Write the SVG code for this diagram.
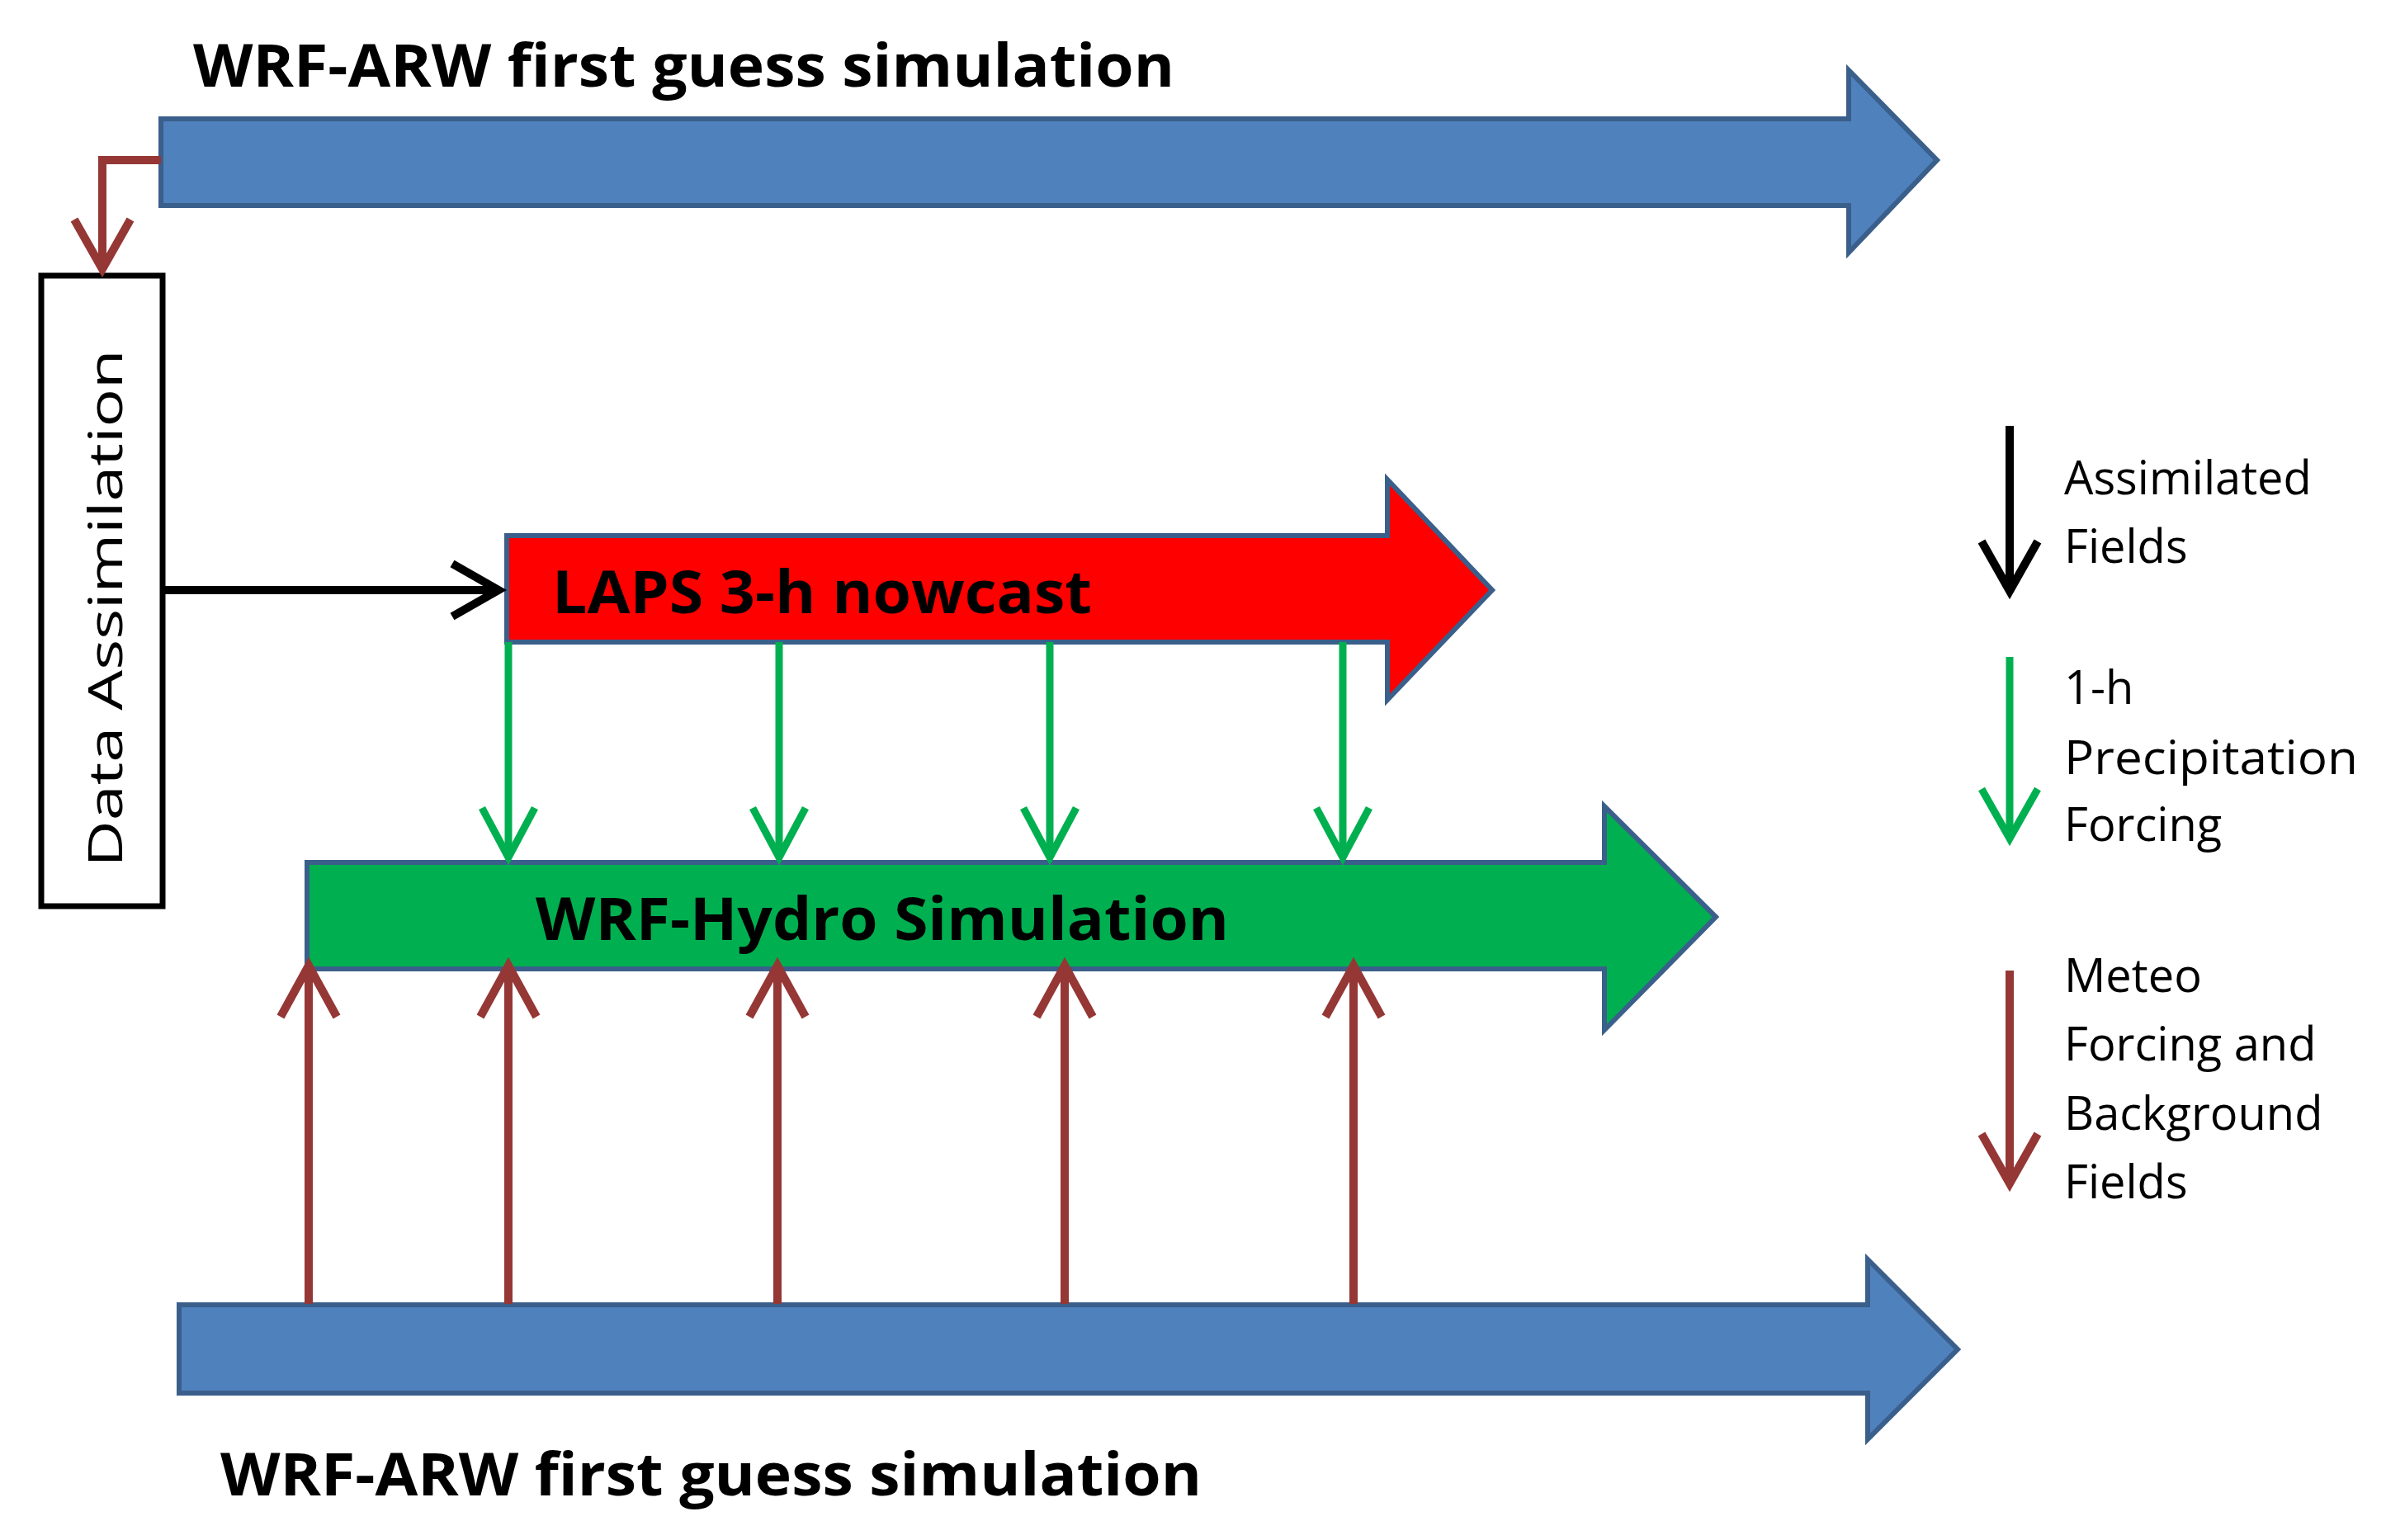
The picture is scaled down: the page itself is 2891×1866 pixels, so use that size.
<svg xmlns="http://www.w3.org/2000/svg" width="2891" height="1866" viewBox="0 0 2891 1866">
<style>
.big{stroke:#3A5F8B;stroke-width:6;stroke-linejoin:miter}
.t{font-family:"Open Sans","Liberation Sans",sans-serif;font-weight:bold;font-size:72px;fill:#000}
.l{font-family:"Open Sans","Liberation Sans",sans-serif;font-size:56px;fill:#000}
.br{stroke:#953735;stroke-width:10;fill:none}
.gr{stroke:#00B050;stroke-width:9;fill:none}
.bk{stroke:#000;stroke-width:10;fill:none}
</style>
<rect width="2891" height="1866" fill="#fff"/>
<g id="wrf-top">
<polygon class="big" fill="#4F81BD" points="195,144 2240,144 2240,85 2347,194 2240,306 2240,249 195,249"/>
<text class="t" x="234" y="105" textLength="1189" lengthAdjust="spacingAndGlyphs">WRF-ARW first guess simulation</text>
</g>
<g id="data-assimilation">
<rect x="50" y="334" width="147" height="764" fill="#fff" stroke="#000" stroke-width="7"/>
<text class="l" transform="translate(148,737) rotate(-90)" text-anchor="middle" font-size="72" textLength="627" lengthAdjust="spacingAndGlyphs">Data Assimilation</text>
</g>
<g id="laps">
<polygon class="big" fill="#FF0000" points="614,649 1681,649 1681,581 1808,715 1681,848 1681,778 614,778"/>
<text class="t" x="669" y="743" textLength="654" lengthAdjust="spacingAndGlyphs">LAPS 3-h nowcast</text>
</g>
<g id="wrf-hydro">
<polygon class="big" fill="#00B050" points="372,1045 1944,1045 1944,977 2079,1111 1944,1248 1944,1174 372,1174"/>
<text class="t" x="649" y="1139" textLength="840" lengthAdjust="spacingAndGlyphs">WRF-Hydro Simulation</text>
</g>
<g id="wrf-bottom">
<polygon class="big" fill="#4F81BD" points="217,1581 2263,1581 2263,1526 2372,1635 2263,1744 2263,1688 217,1688"/>
<text class="t" x="267" y="1812" textLength="1189" lengthAdjust="spacingAndGlyphs">WRF-ARW first guess simulation</text>
</g>
<g id="connectors">
<polyline class="br" points="195,194 124,194 124,326"/>
<polyline class="br" points="90,266 124,326 158,266"/>
<line class="bk" x1="197" y1="715" x2="604" y2="715"/>
<polyline class="bk" points="548,683 604,715 548,747"/>
<g class="gr">
<line x1="616" y1="778" x2="616" y2="1039"/><polyline points="584,979 616,1039 648,979"/>
<line x1="944" y1="778" x2="944" y2="1039"/><polyline points="912,979 944,1039 976,979"/>
<line x1="1272" y1="778" x2="1272" y2="1039"/><polyline points="1240,979 1272,1039 1304,979"/>
<line x1="1627" y1="778" x2="1627" y2="1039"/><polyline points="1595,979 1627,1039 1659,979"/>
</g>
<g class="br">
<line x1="374" y1="1580" x2="374" y2="1170"/><polyline points="340,1232 374,1170 408,1232"/>
<line x1="616" y1="1580" x2="616" y2="1170"/><polyline points="582,1232 616,1170 650,1232"/>
<line x1="942" y1="1580" x2="942" y2="1170"/><polyline points="908,1232 942,1170 976,1232"/>
<line x1="1290" y1="1580" x2="1290" y2="1170"/><polyline points="1256,1232 1290,1170 1324,1232"/>
<line x1="1640" y1="1580" x2="1640" y2="1170"/><polyline points="1606,1232 1640,1170 1674,1232"/>
</g>
</g>
<g id="legend">
<line class="bk" x1="2435" y1="516" x2="2435" y2="716"/><polyline class="bk" points="2401,656 2435,716 2469,656"/>
<text class="l" x="2501" y="599">Assimilated</text>
<text class="l" x="2501" y="682">Fields</text>
<line class="gr" x1="2435" y1="796" x2="2435" y2="1016"/><polyline class="gr" points="2401,956 2435,1016 2469,956"/>
<text class="l" x="2501" y="853">1-h</text>
<text class="l" x="2501" y="938" textLength="356" lengthAdjust="spacingAndGlyphs">Precipitation</text>
<text class="l" x="2501" y="1019">Forcing</text>
<line class="br" x1="2435" y1="1176" x2="2435" y2="1434"/><polyline class="br" points="2401,1374 2435,1434 2469,1374"/>
<text class="l" x="2501" y="1202">Meteo</text>
<text class="l" x="2501" y="1285">Forcing and</text>
<text class="l" x="2501" y="1369">Background</text>
<text class="l" x="2501" y="1452">Fields</text>
</g>
</svg>
